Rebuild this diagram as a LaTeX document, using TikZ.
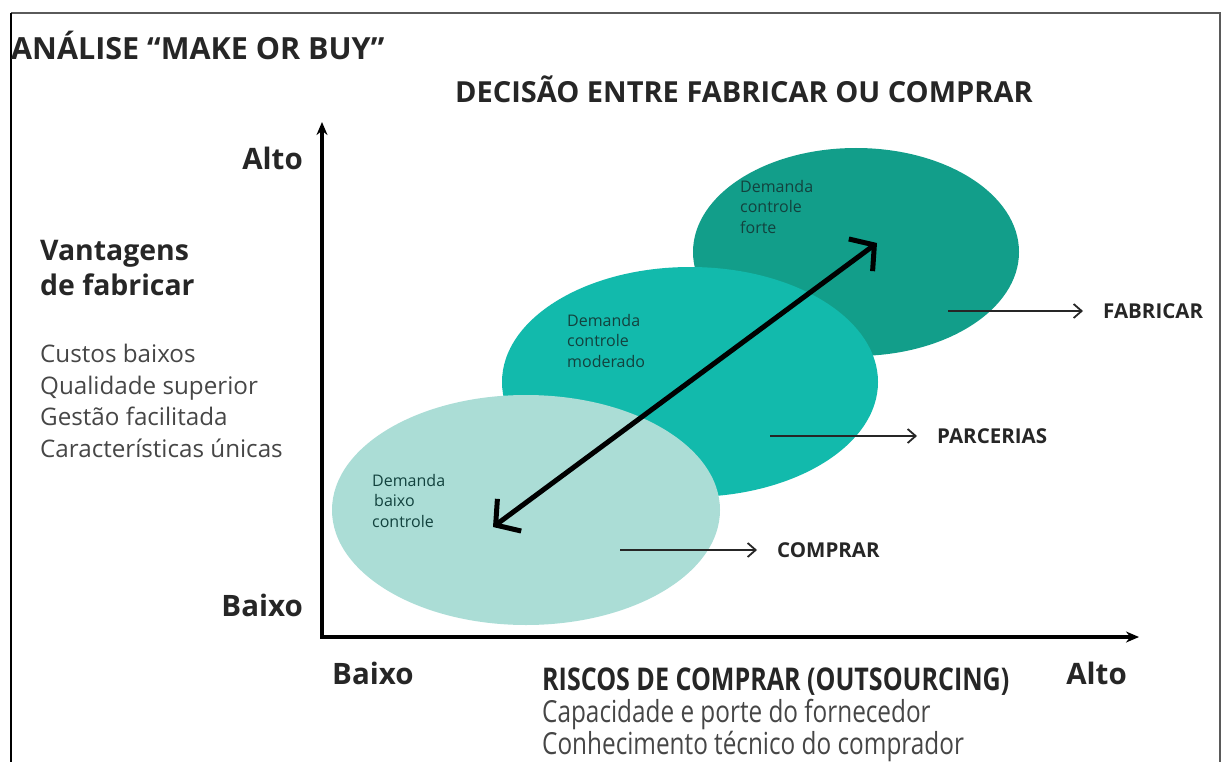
\documentclass[tikz,border=0pt]{standalone}
\usepackage{fontspec}
\setmainfont{Open Sans}
\newfontfamily\condfont[FakeStretch=0.80]{Open Sans}
\usetikzlibrary{shapes.geometric, arrows.meta, positioning}
\definecolor{zonelight}{RGB}{171,221,214}
\definecolor{zonemid}{RGB}{18,186,172}
\definecolor{zonedark}{RGB}{18,158,138}
\definecolor{zoneink}{RGB}{18,66,62}
\definecolor{listink}{RGB}{70,70,70}
\definecolor{frameline}{RGB}{90,90,90}
\tikzset{
    zone/.style={ellipse, draw=none, inner sep=0pt},
    zonetext/.style={
        align=left, inner sep=0pt, text=zoneink,
        font=\fontsize{16}{20.5}\selectfont
    },
    axislabel/.style={inner sep=0pt, text=black!85, font=\bfseries\fontsize{29.5}{32}\selectfont},
    choice/.style={inner sep=0pt, text=black!85, font=\bfseries\fontsize{20.5}{22}\selectfont},
    choicearrow/.style={draw=black!85, line width=2.8pt, shorten >=20pt,
        -{Straight Barb[length=8pt, width=14pt, line width=1.8pt]}},
    axis/.style={draw=black, line width=3.2pt,
        {Stealth[length=13pt, width=11pt]}-{Stealth[length=13pt, width=11pt]}},
    trend/.style={draw=black, line width=5pt,
        {Straight Barb[length=17pt, width=40pt]}-{Straight Barb[length=17pt, width=40pt]}}
}

\begin{document}
\begin{tikzpicture}[x=1pt, y=-1pt]
\useasboundingbox (0,0) rectangle (1222,762);

% Frame
\draw[frameline, line width=1.5pt] (11,13) -- (1220,13) -- (1220,762);
\draw[black, line width=1.8pt] (11,13) -- (11,762);

% Titles
\node[anchor=base west, inner sep=0pt, text=black!85, font=\bfseries\fontsize{30.5}{32}\selectfont] (title) at (11,60) {ANÁLISE “MAKE OR BUY”};
\node[anchor=base west, inner sep=0pt, text=black!85, font=\bfseries\fontsize{29}{32}\selectfont] (decision) at (455,103) {DECISÃO ENTRE FABRICAR OU COMPRAR};

% Zones
\node[zone, fill=zonedark, minimum width=326pt, minimum height=208pt] (forte) at (856,252) {};
\node[zone, fill=zonemid, minimum width=376pt, minimum height=230pt] (moderado) at (690,382) {};
\node[zone, fill=zonelight, minimum width=388pt, minimum height=230pt] (baixo) at (526,510) {};

\node[zonetext, anchor=north west] (forteText) at (740,180) {Demanda\\controle\\forte};
\node[zonetext, anchor=north west] (moderadoText) at (567,314) {Demanda\\controle\\moderado};
\node[zonetext, anchor=north west] (baixoText) at (372,474) {Demanda\\\hspace{2pt}baixo\\controle};

% Trend arrow
\coordinate (trendLow) at (493,527);
\coordinate (trendHigh) at (877,243);
\draw[trend] (trendLow) -- (trendHigh);

% Axes
\coordinate (origin) at (322,637);
\coordinate (yTip) at (322,122);
\coordinate (xTip) at (1139,637);
\draw[axis] (yTip) -- (origin) -- (xTip);

% Axis labels
\node[axislabel, anchor=base east] (yHigh) at (303,170) {Alto};
\node[axislabel, anchor=base east] (yLow) at (303,616) {Baixo};
\node[axislabel, anchor=base west] (xLow) at (332,684) {Baixo};
\node[axislabel, anchor=base east] (xHigh) at (1127,684) {Alto};

% Vantagens de fabricar
\node[anchor=north west, align=left, inner sep=0pt, text=black!85, font=\bfseries\fontsize{28.4}{35}\selectfont] (vantagens) at (40,240) {Vantagens\\de fabricar};
\node[anchor=north west, align=left, inner sep=0pt, text=listink, font=\fontsize{24.2}{31.5}\selectfont] (vantagensList) at (40,344) {Custos baixos\\Qualidade superior\\Gestão facilitada\\Características únicas};

% Riscos de comprar
\node[anchor=base west, inner sep=0pt, text=black!85, font=\condfont\bfseries\fontsize{31.3}{32}\selectfont] (riscos) at (542,690) {RISCOS DE COMPRAR (OUTSOURCING)};
\node[anchor=north west, align=left, inner sep=0pt, text=listink, font=\condfont\fontsize{30.4}{30}\selectfont] (riscosList) at (542,699) {Capacidade e porte do fornecedor\\Conhecimento técnico do comprador};

% Decisions
\node[choice, anchor=west] (fabricar) at (1103,311) {FABRICAR};
\node[choice, anchor=west] (parcerias) at (937,436) {PARCERIAS};
\node[choice, anchor=west] (comprar) at (777,550) {COMPRAR};
\coordinate (fabricarTail) at (948,311);
\coordinate (parceriasTail) at (770,436);
\coordinate (comprarTail) at (620,550);
\draw[choicearrow] (fabricarTail) -- (fabricar.west);
\draw[choicearrow] (parceriasTail) -- (parcerias.west);
\draw[choicearrow] (comprarTail) -- (comprar.west);

\end{tikzpicture}
\end{document}
